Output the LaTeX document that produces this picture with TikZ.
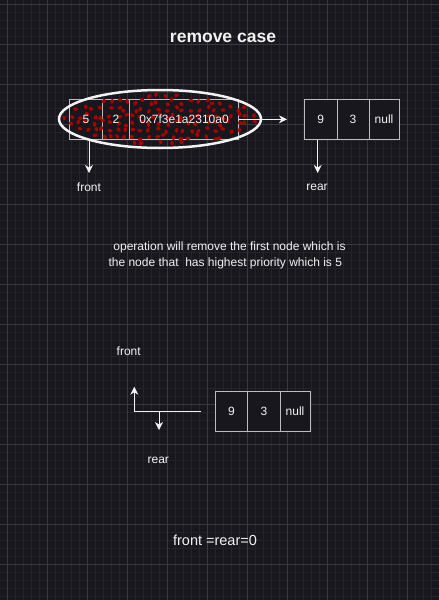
\documentclass[tikz,border=0pt]{standalone}
\usepackage{fontspec}
\setmainfont{Liberation Sans}
\usetikzlibrary{arrows.meta}
\definecolor{bg}{HTML}{19171E}
\definecolor{gridminor}{HTML}{242329}
\definecolor{gridmajor}{HTML}{3A393F}
\definecolor{boxline}{HTML}{BDBDBD}
\definecolor{ink}{HTML}{F2F2F2}
\definecolor{dotred}{HTML}{A80000}
\tikzset{
  cell/.style={draw=boxline, line width=1pt, fill=bg, text=ink, inner sep=0pt,
    minimum height=40pt, font=\fontsize{12}{14}\selectfont},
  lbl/.style={text=ink, inner sep=0pt, font=\fontsize{12}{14}\selectfont},
  arr/.style={draw=ink, line width=1pt, -{Stealth[length=8pt,width=8pt,inset=2.5pt]}},
  plain/.style={draw=ink, line width=1pt}
}
\begin{document}
\begin{tikzpicture}[x=1pt,y=-1pt]
\fill[bg] (0,0) rectangle (439,600);
\useasboundingbox (0,0) rectangle (439,600);
% grid
\foreach \x in {7.3,15.3,...,439} \draw[gridminor, line width=0.6pt] (\x,0) -- (\x,600);
\foreach \y in {4.3,12.3,...,600} \draw[gridminor, line width=0.6pt] (0,\y) -- (439,\y);
\foreach \x in {7.3,47.3,...,439} \draw[gridmajor, line width=0.8pt] (\x,0) -- (\x,600);
\foreach \y in {4.3,44.3,...,600} \draw[gridmajor, line width=0.8pt] (0,\y) -- (439,\y);

% title
\node[text=ink, inner sep=0pt, font=\fontsize{17.5}{20}\selectfont\bfseries] (title) at (223,37.5) {remove case};

% top list (boxes first, text after the dots)
\node[cell, minimum width=33pt] (a1) at (86,119.3) {};
\node[cell, minimum width=27pt] (a2) at (116,119.3) {};
\node[cell, minimum width=109pt] (a3) at (184,119.3) {};

% red dots, jittered grid inside the ellipse
\pgfmathsetseed{5}
\foreach \gx in {62,70,...,258}{
  \foreach \gy in {95,102,...,145}{
    \pgfmathsetmacro\px{\gx+3*rand}
    \pgfmathsetmacro\py{\gy+2.5*rand}
    \pgfmathsetmacro\inside{((\px-160)*(\px-160)/9409+(\py-119)*(\py-119)/625)<1 ? 1 : 0}
    \pgfmathsetmacro\rot{180*rnd}
    \ifdim\inside pt>0.5pt
      \fill[dotred, rotate around={\rot:(\px,\py)}] (\px,\py) ellipse (2.4pt and 1.8pt);
    \fi
  }
}

\node[lbl] (a1t) at (a1) {5};
\node[lbl] (a2t) at (a2) {2};
\node[lbl] (a3t) at (a3) {0x7f3e1a2310a0};

\draw[ink, line width=2.5pt] (160,119) ellipse (101pt and 29pt);

\node[cell, minimum width=32.5pt] (b1) at (320.75,119.3) {9};
\node[cell, minimum width=32pt] (b2) at (353,119.3) {3};
\node[cell, minimum width=30pt] (b3) at (384,119.3) {null};

\draw[arr, shorten >=17pt] (a3.east) -- (b1.west);

\node[lbl] (front1) at (89,187) {front};
\coordinate (fa) at (89,173);
\draw[arr] (a1.south -| fa) -- (fa);
\node[lbl] (rear1) at (317,187.5) {rear};
\coordinate (ra) at (317.7,173);
\draw[arr] (b1.south -| ra) -- (ra);

% explanation
\node[lbl] (t1) at (229.5,247.3) {operation will remove the first node which is};
\node[lbl] (t2) at (225.3,263.3) {the node that\ \ has highest priority which is 5};

% bottom
\node[lbl] (front2) at (128.7,351.7) {front};
\node[lbl] (rear2) at (158.3,460.7) {rear};
\coordinate (corner) at (134.3,411);
\coordinate (hend) at (200.7,411);
\coordinate (uptip) at (134.3,386.7);
\coordinate (dstart) at (159,411);
\coordinate (dtip) at (159,430);
\draw[plain] (hend) -- (corner);
\draw[arr] (corner) -- (uptip);
\draw[arr] (dstart) -- (dtip);

\node[cell, minimum width=32.4pt, minimum height=39.6pt] (c1) at (231.5,411.5) {9};
\node[cell, minimum width=32.3pt, minimum height=39.6pt] (c2) at (263.85,411.5) {3};
\node[cell, minimum width=30pt, minimum height=39.6pt] (c3) at (295,411.5) {null};

\node[text=ink, inner sep=0pt, font=\fontsize{14.5}{17}\selectfont] (eq) at (215,540) {front =rear=0};
\end{tikzpicture}
\end{document}
